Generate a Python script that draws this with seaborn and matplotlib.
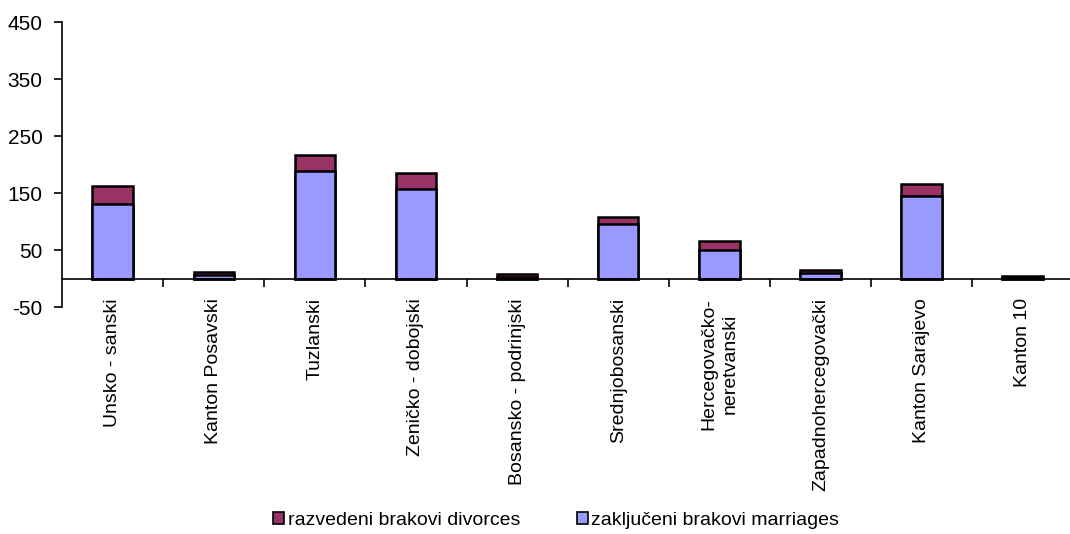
import matplotlib
matplotlib.use("Agg")
import matplotlib.pyplot as plt
from matplotlib.patches import Patch
from matplotlib.ticker import FixedLocator
import seaborn as sns
import pandas as pd

categories = ["Unsko - sanski", "Kanton Posavski", "Tuzlanski", "Zeničko - dobojski",
              "Bosansko - podrinjski", "Srednjobosanski", "Hercegovačko-\nneretvanski",
              "Zapadnohercegovački", "Kanton Sarajevo", "Kanton 10"]
marriages = [131, 6, 189, 158, 3, 96, 51, 9, 145, 2]
divorces = [32, 5, 28, 28, 5, 12, 15, 6, 21, 2]
yticks = [-50, 50, 150, 250, 350, 450]
series_names = ["razvedeni brakovi divorces", "zaključeni brakovi marriages"]

col_div = "#993366"
col_mar = "#9999FF"

sns.set_style("white")
plt.rcParams["font.family"] = ["Liberation Sans", "DejaVu Sans"]
plt.rcParams["axes.unicode_minus"] = False
plt.rcParams["text.color"] = "black"
plt.rcParams["xtick.color"] = "black"
plt.rcParams["ytick.color"] = "black"

df = pd.DataFrame({"cat": categories, "mar": marriages, "div": divorces})
df["total"] = df["mar"] + df["div"]

fig = plt.figure(figsize=(10.7, 5.34), dpi=100)
ax = fig.add_axes([0.058, 0.425, 0.945, 0.533])

sns.barplot(data=df, x="cat", y="total", color=col_div, saturation=1, width=0.4,
            edgecolor="black", linewidth=1.8, ax=ax)
sns.barplot(data=df, x="cat", y="mar", color=col_mar, saturation=1, width=0.4,
            edgecolor="black", linewidth=1.8, ax=ax)

ax.set_xlim(-0.5, len(categories) - 0.5)
ax.set_ylim(-50, 450)
ax.set_yticks(yticks)
ax.set_xlabel("")
ax.set_ylabel("")

for s in ["top", "right"]:
    ax.spines[s].set_visible(False)
ax.spines["bottom"].set_position(("data", 0))
ax.spines["bottom"].set_color("black")
ax.spines["bottom"].set_linewidth(1.2)
ax.spines["left"].set_color("black")
ax.spines["left"].set_linewidth(1.2)

ax.tick_params(axis="y", which="major", direction="out", length=6, width=1.2,
               color="black", pad=8, labelsize=15, left=True, labelcolor="black")
ax.tick_params(axis="x", which="major", length=0, pad=14, labelsize=14, labelcolor="black")
ax.xaxis.set_minor_locator(FixedLocator([i + 0.5 for i in range(len(categories) - 1)]))
ax.tick_params(axis="x", which="minor", direction="out", length=6, width=1.2,
               color="black", bottom=True)
ax.set_xticks(range(len(categories)))
ax.set_xticklabels(categories, rotation=90, va="top", ha="center", fontsize=14,
                   linespacing=1.3)

handles = [Patch(facecolor=col_div, edgecolor="black", linewidth=1.2),
           Patch(facecolor=col_mar, edgecolor="black", linewidth=1.2)]
fig.legend(handles, series_names, loc="center", bbox_to_anchor=(0.52, 0.026),
           ncol=2, frameon=False, fontsize=14, handlelength=0.55, handleheight=0.55,
           handletextpad=0.2, columnspacing=2.9, labelcolor="black")

fig.savefig("out.png", dpi=100)
